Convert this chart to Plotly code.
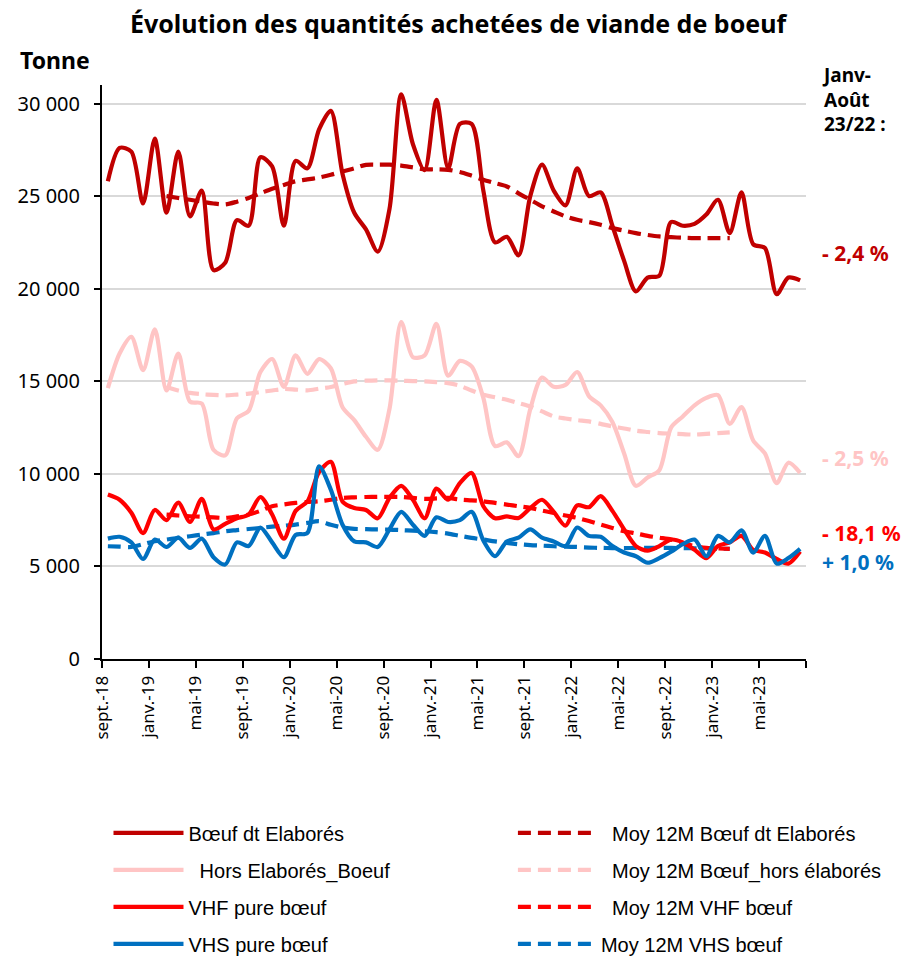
import plotly.graph_objects as go

months = ["sept.-18","oct.-18","nov.-18","déc.-18",
          "janv.-19","févr.-19","mars-19","avr.-19","mai-19","juin-19","juil.-19","août-19","sept.-19","oct.-19","nov.-19","déc.-19",
          "janv.-20","févr.-20","mars-20","avr.-20","mai-20","juin-20","juil.-20","août-20","sept.-20","oct.-20","nov.-20","déc.-20",
          "janv.-21","févr.-21","mars-21","avr.-21","mai-21","juin-21","juil.-21","août-21","sept.-21","oct.-21","nov.-21","déc.-21",
          "janv.-22","févr.-22","mars-22","avr.-22","mai-22","juin-22","juil.-22","août-22","sept.-22","oct.-22","nov.-22","déc.-22",
          "janv.-23","févr.-23","mars-23","avr.-23","mai-23","juin-23","juil.-23","août-23"]

tick_labels = ["sept.-18","janv.-19","mai-19","sept.-19","janv.-20","mai-20","sept.-20",
               "janv.-21","mai-21","sept.-21","janv.-22","mai-22","sept.-22","janv.-23","mai-23",""]

boeuf_elabores = [25800,27600,27400,24600,28100,24100,27400,23900,25300,21000,21400,23700,
                  23400,27100,26600,23400,26900,26500,28600,29600,26200,24100,23200,22000,
                  24300,30500,27800,26400,30200,26500,28900,28900,25300,22500,22800,21800,
                  25000,26700,25300,24500,26500,25000,25200,23400,21500,19850,20600,20700,
                  23600,23400,23500,24000,24800,23000,25200,22400,22200,19700,20600,20450]

hors_elabores = [14630,16500,17400,15600,17800,14500,16500,13900,13800,11300,11000,13000,
                 13400,15500,16200,14700,16400,15400,16200,15700,13600,12900,12000,11300,
                 13500,18200,16300,16400,18100,15300,16100,15800,14100,11500,11700,10950,
                 13500,15200,14700,14800,15500,14200,13700,12800,11100,9350,9800,10200,
                 12500,13100,13700,14100,14250,12700,13600,11800,11100,9500,10600,10050]

vhf = [8880,8600,7900,6800,8050,7500,8450,7400,8650,7000,7300,7600,
       7800,8750,7800,6500,8000,8500,10100,10650,8500,8150,8050,7600,
       8700,9350,8600,7600,9200,8600,9500,10050,8250,7600,7700,7620,
       8150,8600,7950,7200,8300,8200,8800,8000,7000,6100,5850,6100,
       6450,6300,5900,5450,6100,6300,6650,5900,5750,5400,5150,5800]

vhs = [6500,6600,6300,5400,6450,6050,6550,6000,6500,5500,5100,6300,
       6100,7100,6300,5500,6700,6800,10400,9150,7250,6350,6300,6050,
       7000,7950,7250,6650,7650,7400,7500,7950,6400,5550,6350,6550,
       7000,6550,6350,6100,7100,6650,6600,6100,5750,5550,5200,5450,
       5800,6200,6450,5550,6650,6300,6950,5750,6650,5150,5450,5950]

N = None
ma_boeuf = [N,N,N,N,N,25000,24900,24800,24700,24600,24550,24700,
            24900,25150,25400,25600,25800,25900,26000,26150,26330,26500,26690,26700,
            26700,26650,26550,26450,26450,26420,26300,26100,25880,25700,25520,25150,
            24800,24450,24170,23900,23720,23600,23450,23270,23130,23000,22900,22820,
            22780,22750,22730,22730,22730,22730,N,N,N,N,N,N]

ma_hors = [N,N,N,N,N,14690,14500,14370,14300,14260,14240,14280,
           14330,14420,14500,14580,14550,14510,14600,14690,14850,14990,15030,15050,
           15050,15030,15010,14990,14950,14900,14760,14500,14270,14130,14000,13820,
           13640,13370,13100,12990,12900,12830,12700,12560,12450,12330,12260,12200,
           12170,12140,12120,12160,12200,12240,N,N,N,N,N,N]

ma_vhf = [N,N,N,N,N,7800,7750,7710,7680,7650,7620,7700,
          7800,8000,8250,8350,8430,8480,8520,8600,8700,8730,8750,8760,
          8760,8750,8700,8650,8670,8700,8610,8570,8520,8430,8340,8250,
          8160,8020,7890,7750,7620,7450,7260,7080,6900,6780,6650,6550,
          6450,6250,6100,6000,5970,5950,N,N,N,N,N,N]

ma_vhs = [6090,6070,6050,6200,6360,6450,6550,6630,6720,6800,6900,6960,
          7020,7080,7150,7200,7260,7350,7440,7250,7100,7030,7010,7000,
          6990,6960,6930,6900,6850,6770,6650,6540,6450,6350,6270,6200,
          6150,6120,6090,6070,6050,6020,6000,5990,5990,6000,6000,6000,
          6000,5990,5980,5970,5960,5950,N,N,N,N,N,N]

C_DARK = "#C00000"
C_PINK = "#FFC5C5"
C_RED = "#FF0000"
C_BLUE = "#0070C0"

x = list(range(len(months)))

# plot area in pixels
W, H = 916, 959
L, R, T, B = 101.5, 806.5, 85, 659.5

def px(xp):
    return (xp - L) / (R - L)

def py(yp):
    return (B - yp) / (B - T)

fig = go.Figure()

LW = 4.2
DASH = "13px,7px"
LEGFONT = dict(family="Liberation Sans Narrow, Liberation Sans, Arial", size=20, color="#000")

def add(y, name, color, dash, legend, rank):
    fig.add_trace(go.Scatter(
        x=x, y=y, name=name, mode="lines",
        line=dict(color=color, width=LW, shape="spline", smoothing=0.8, dash=dash),
        connectgaps=False, legend=legend, legendgroup=name, legendrank=rank,
        customdata=months, hovertemplate="%{customdata}: %{y:,.0f}<extra>" + name.strip() + "</extra>"))

add(ma_hors, "  Moy 12M Bœuf_hors élaborés", C_PINK, DASH, "legend2", 2)
add(hors_elabores, "  Hors Elaborés_Boeuf", C_PINK, "solid", "legend", 2)
add(ma_boeuf, "  Moy 12M Bœuf dt Elaborés", C_DARK, DASH, "legend2", 1)
add(boeuf_elabores, "Bœuf dt Elaborés", C_DARK, "solid", "legend", 1)
add(ma_vhs, "Moy 12M VHS bœuf", C_BLUE, DASH, "legend2", 4)
add(vhf, "VHF pure bœuf", C_RED, "solid", "legend", 3)
add(ma_vhf, "  Moy 12M VHF bœuf", C_RED, DASH, "legend2", 3)
add(vhs, "VHS pure bœuf", C_BLUE, "solid", "legend", 4)

tickvals = [i - 0.5 for i in range(0, len(months), 4)] + [len(months) - 0.5]

BASEFONT = "Noto Sans, Lato, sans-serif"
XTICKFONT = dict(family=BASEFONT, size=17, color="#000")
YTICKFONT = dict(family=BASEFONT, size=20, color="#000")

fig.update_layout(
    width=W, height=H,
    margin=dict(l=L, r=W - R, t=T, b=H - B, pad=0, autoexpand=False),
    paper_bgcolor="white", plot_bgcolor="white",
    separators=", ",
    showlegend=True,
    title=dict(text="<b>Évolution des quantités achetées de viande de boeuf</b>",
               x=458 / W, xref="container", xanchor="center",
               y=1 - 24 / H, yref="container", yanchor="middle",
               font=dict(family=BASEFONT, size=25, color="#000")),
    xaxis=dict(range=[-0.5, len(months) - 0.5], tickmode="array", tickvals=tickvals,
               ticktext=tick_labels, tickangle=-90, ticks="outside", ticklen=7,
               tickwidth=1.5, tickcolor="#000", showline=True, linecolor="#000",
               linewidth=2, showgrid=False, zeroline=False, tickfont=XTICKFONT,
               ticklabelstandoff=1),
    yaxis=dict(range=[0, 31000], tickmode="array", tickvals=[0, 5000, 10000, 15000, 20000, 25000, 30000],
               tickformat=",d", ticks="outside", ticklen=6, tickwidth=1.5, tickcolor="#000",
               showline=True, linecolor="#000", linewidth=2, showgrid=True,
               gridcolor="#D9D9D9", gridwidth=1.5, zeroline=False, tickfont=YTICKFONT,
               ticklabelstandoff=10),
    legend=dict(x=px(108), y=py(814), xanchor="left", yanchor="top", orientation="v",
                font=LEGFONT, itemwidth=70, tracegroupgap=8, bgcolor="rgba(0,0,0,0)",
                traceorder="grouped", itemclick=False),
    legend2=dict(x=px(513), y=py(814), xanchor="left", yanchor="top", orientation="v",
                 font=LEGFONT, itemwidth=78, tracegroupgap=8, bgcolor="rgba(0,0,0,0)",
                 traceorder="grouped", itemclick=False),
)

anns = [
    dict(text="<b>Tonne</b>", x=px(54), y=py(60), size=23, color="#000", xanchor="center"),
    dict(text="<b>Janv-<br>Août<br>23/22 :</b>", x=px(821), y=py(100), size=19, color="#000", xanchor="left"),
    dict(text="<b>- 2,4 %</b>", x=px(821), y=py(253), size=21, color=C_DARK, xanchor="left"),
    dict(text="<b>- 2,5 %</b>", x=px(821), y=py(458), size=21, color=C_PINK, xanchor="left"),
    dict(text="<b>- 18,1 %</b>", x=px(821), y=py(533), size=21, color=C_RED, xanchor="left"),
    dict(text="<b>+ 1,0 %</b>", x=px(821), y=py(562), size=21, color=C_BLUE, xanchor="left"),
]
for a in anns:
    fig.add_annotation(text=a["text"], x=a["x"], y=a["y"], xref="paper", yref="paper",
                       xanchor=a["xanchor"], yanchor="middle", showarrow=False, align="left",
                       font=dict(family=BASEFONT, size=a["size"], color=a["color"]))

fig.write_html("out.html", config={"displayModeBar": False},
               post_script="document.body.style.margin='0px';document.body.style.overflow='hidden';")
